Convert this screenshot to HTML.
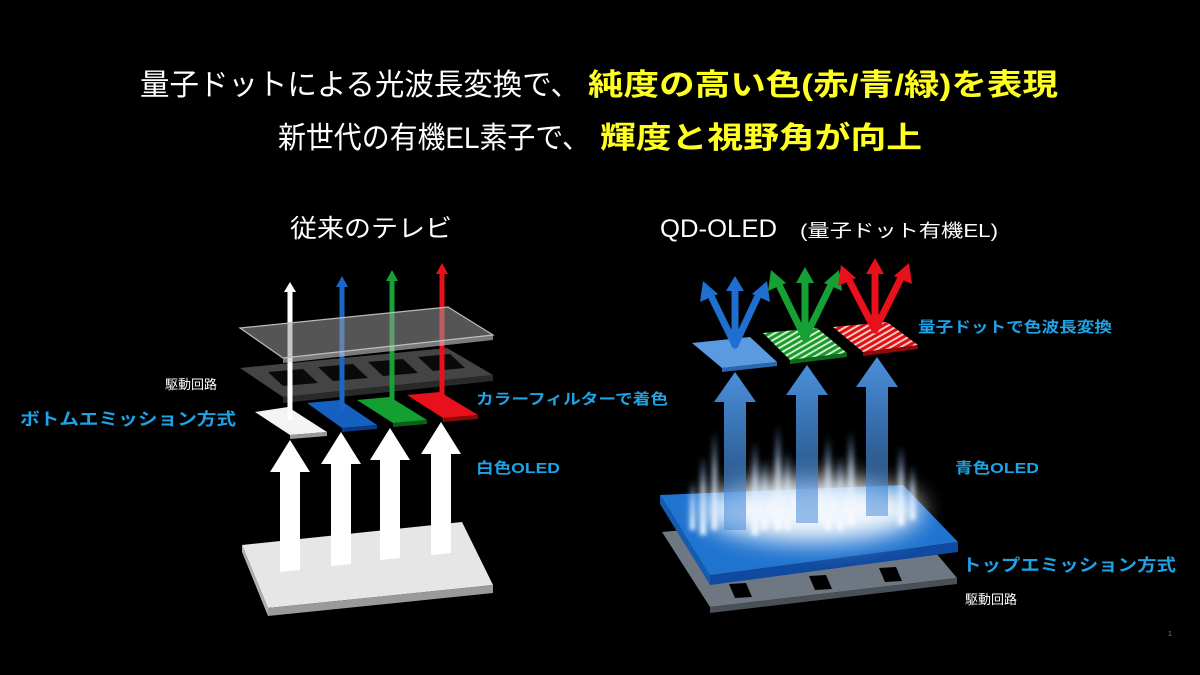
<!DOCTYPE html>
<html><head><meta charset="utf-8"><style>
html,body{margin:0;padding:0;background:#000;}
svg{display:block}
text{font-family:"Liberation Sans","Noto Sans CJK JP",sans-serif;}
</style></head><body>
<svg width="1200" height="675" viewBox="0 0 1200 675" xmlns="http://www.w3.org/2000/svg">
<defs>
<filter id="blur" x="-50%" y="-50%" width="200%" height="200%"><feGaussianBlur stdDeviation="12"/></filter>
<filter id="blur2" x="-50%" y="-50%" width="200%" height="200%"><feGaussianBlur stdDeviation="2.5"/></filter>
<pattern id="stripeG" width="5" height="5" patternUnits="userSpaceOnUse" patternTransform="rotate(60)"><rect width="5" height="5" fill="#1a9a2a"/><rect width="2" height="5" fill="#cfeecf"/></pattern>
<pattern id="stripeR" width="5" height="5" patternUnits="userSpaceOnUse" patternTransform="rotate(60)"><rect width="5" height="5" fill="#e01010"/><rect width="2" height="5" fill="#f8c8c8"/></pattern>
<linearGradient id="barr" x1="0" y1="1" x2="0" y2="0"><stop offset="0" stop-color="#3f86d6" stop-opacity="0.5"/><stop offset="1" stop-color="#4a90dc"/></linearGradient>
<linearGradient id="streak" x1="0" y1="1" x2="0" y2="0"><stop offset="0" stop-color="#fff"/><stop offset="0.6" stop-color="#cfe4ff" stop-opacity="0.7"/><stop offset="1" stop-color="#6aa8ff" stop-opacity="0"/></linearGradient>
</defs>

<!-- titles -->
<text x="140" y="95" font-size="30" fill="#fff" textLength="440" lengthAdjust="spacingAndGlyphs">量子ドットによる光波長変換で、</text>
<text x="588" y="95" font-size="30" font-weight="bold" fill="#ffff22" textLength="470" lengthAdjust="spacingAndGlyphs">純度の高い色(赤/青/緑)を表現</text>
<text x="278" y="148" font-size="30" fill="#fff" textLength="312" lengthAdjust="spacingAndGlyphs">新世代の有機EL素子で、</text>
<text x="600" y="148" font-size="30" font-weight="bold" fill="#ffff22" textLength="322" lengthAdjust="spacingAndGlyphs">輝度と視野角が向上</text>

<text x="290" y="237" font-size="25" fill="#fff" textLength="162" lengthAdjust="spacingAndGlyphs">従来のテレビ</text>
<text x="660" y="237" font-size="25" fill="#fff" textLength="117" lengthAdjust="spacingAndGlyphs">QD-OLED</text>
<text x="800" y="237" font-size="18" fill="#fff" textLength="198" lengthAdjust="spacingAndGlyphs">(量子ドット有機EL)</text>

<!-- LEFT diagram -->
<polygon points="242,545 462,522 493,585 268,608" fill="#e6e6e6"/>
<polygon points="268,608 493,585 493,593 268,616" fill="#9a9a9a"/>
<polygon points="242,545 268,608 268,616 242,552" fill="#b0b0b0"/>
<g fill="#fff">
<polygon points="280,572 300,570 300,472 310,472 290,440 270,472 280,472"/>
<polygon points="331,566 351,564 351,464 361,464 341,432 321,464 331,464"/>
<polygon points="380,560 400,558 400,460 410,460 390,428 370,460 380,460"/>
<polygon points="431,555 451,553 451,454 461,454 441,422 421,454 431,454"/>
</g>
<polygon points="255,412 288,407 327,432 290,435" fill="#f4f4f4"/>
<polygon points="290,435 327,432 327,436 290,439" fill="#999"/>
<polygon points="307,403 340,400 377,425 342,428" fill="#1560c0"/>
<polygon points="342,428 377,425 377,429 342,432" fill="#0c3a80"/>
<polygon points="357,400 390,397 427,420 393,423" fill="#13a030"/>
<polygon points="393,423 427,420 427,424 393,427" fill="#0a6018"/>
<polygon points="407,395 440,392 478,415 443,418" fill="#e8101a"/>
<polygon points="443,418 478,415 478,419 443,422" fill="#8a0808"/>
<!-- driving circuit frame -->
<polygon points="240,368 447,348 493,375 283,397" fill="#444"/>
<polygon points="283,397 493,375 493,381 283,403" fill="#2a2a2a"/>
<g fill="#0a0a0a">
<polygon points="268,372 303,369 318,383 283,386"/>
<polygon points="318,367 353,364 368,378 333,381"/>
<polygon points="368,362 403,359 418,373 383,376"/>
<polygon points="418,357 450,354 465,368 433,371"/>
</g>
<g stroke-width="5">
<line x1="290" y1="420" x2="290" y2="290" stroke="#fff"/>
<line x1="342" y1="410" x2="342" y2="285" stroke="#1a66c8"/>
<line x1="392" y1="405" x2="392" y2="279" stroke="#16a035"/>
<line x1="442" y1="400" x2="442" y2="272" stroke="#e8101a"/>
</g>
<polygon points="284,292 296,292 290,282" fill="#fff"/>
<polygon points="336,287 348,287 342,276" fill="#1a66c8"/>
<polygon points="386,281 398,281 392,270" fill="#16a035"/>
<polygon points="436,274 448,274 442,263" fill="#e8101a"/>
<polygon points="240,328 448,307 493,335 283,358" fill="#9a9a9a" fill-opacity="0.55" stroke="#bbb" stroke-width="1.2"/>
<polygon points="283,358 493,335 493,340 283,363" fill="#ccc" fill-opacity="0.6"/>

<!-- RIGHT diagram -->
<polygon points="662,532 900,510 957,578 710,607" fill="#6e7782"/>
<polygon points="710,607 957,578 957,584 710,613" fill="#4a5058"/>
<g fill="#000">
<polygon points="735,598 752,597 746,583 729,584"/>
<polygon points="815,590 832,589 826,575 809,576"/>
<polygon points="885,582 902,581 896,567 879,568"/>
</g>
<polygon points="660,495 903,485 958,542 710,575" fill="#1f74d0"/>
<polygon points="710,575 958,542 958,552 710,585" fill="#0f4aa0"/>
<polygon points="660,495 710,575 710,585 660,504" fill="#155bb0"/>
<!-- glow -->
<ellipse cx="812" cy="510" rx="110" ry="32" fill="#ffffff" filter="url(#blur)" opacity="0.95"/>
<g filter="url(#blur2)" fill="url(#streak)">
<rect x="700" y="455" width="6" height="80"/><rect x="712" y="430" width="5" height="100"/>
<rect x="752" y="440" width="6" height="95"/><rect x="762" y="460" width="5" height="70"/>
<rect x="775" y="425" width="6" height="105"/><rect x="785" y="450" width="5" height="80"/>
<rect x="825" y="435" width="6" height="95"/><rect x="838" y="455" width="5" height="75"/>
<rect x="848" y="430" width="6" height="95"/><rect x="898" y="445" width="6" height="80"/>
<rect x="910" y="465" width="5" height="55"/><rect x="690" y="480" width="5" height="50"/>
</g>
<g fill="url(#barr)">
<polygon points="724,530 746,530 746,402 756,402 735,372 714,402 724,402"/>
<polygon points="796,523 818,523 818,395 828,395 807,365 786,395 796,395"/>
<polygon points="866,516 888,516 888,387 898,387 877,357 856,387 866,387"/>
</g>
<polygon points="692,343 750,337 777,362 722,368" fill="#5a9be0"/>
<polygon points="722,368 777,362 777,366 722,372" fill="#2c66b0"/>
<polygon points="763,333 817,328 847,353 790,360" fill="url(#stripeG)"/>
<polygon points="790,360 847,353 847,357 790,364" fill="#0c6a1e"/>
<polygon points="833,327 887,322 918,345 863,352" fill="url(#stripeR)"/>
<polygon points="863,352 918,345 918,349 863,356" fill="#900808"/>
<g stroke-width="7" stroke-linecap="round">
<g stroke="#1f6fd0"><line x1="735" y1="345" x2="712" y2="298"/><line x1="735" y1="345" x2="735" y2="287"/><line x1="735" y1="345" x2="757" y2="298"/></g>
<g stroke="#16a035"><line x1="805" y1="338" x2="780" y2="287"/><line x1="805" y1="338" x2="805" y2="279"/><line x1="805" y1="338" x2="830" y2="287"/></g>
<g stroke="#e8101a"><line x1="875" y1="330" x2="850" y2="282"/><line x1="875" y1="330" x2="875" y2="270"/><line x1="875" y1="330" x2="900" y2="280"/></g>
</g>
<g fill="#1f6fd0"><polygon points="700,302 718,294 703,281"/><polygon points="726,291 744,291 735,276"/><polygon points="752,294 770,302 767,281"/></g>
<g fill="#16a035"><polygon points="768,291 786,283 771,270"/><polygon points="796,283 814,283 805,267"/><polygon points="824,283 842,291 839,270"/></g>
<g fill="#e8101a"><polygon points="838,286 856,278 841,265"/><polygon points="866,274 884,274 875,258"/><polygon points="894,276 912,284 909,263"/></g>

<g font-weight="bold" fill="#1ea3e6">
<text x="20" y="425" font-size="17" textLength="216" lengthAdjust="spacingAndGlyphs">ボトムエミッション方式</text>
<text x="476" y="404" font-size="15" textLength="192" lengthAdjust="spacingAndGlyphs">カラーフィルターで着色</text>
<text x="476" y="473" font-size="15" textLength="84" lengthAdjust="spacingAndGlyphs">白色OLED</text>
<text x="918" y="332" font-size="15" textLength="194" lengthAdjust="spacingAndGlyphs">量子ドットで色波長変換</text>
<text x="955" y="473" font-size="15" textLength="84" lengthAdjust="spacingAndGlyphs">青色OLED</text>
<text x="962" y="571" font-size="17" textLength="214" lengthAdjust="spacingAndGlyphs">トップエミッション方式</text>
</g>
<text x="165" y="389" font-size="13" fill="#fff">駆動回路</text>
<text x="965" y="604" font-size="13" fill="#fff">駆動回路</text>
<text x="1168" y="636" font-size="7" fill="#888">1</text>
</svg>
</body></html>
